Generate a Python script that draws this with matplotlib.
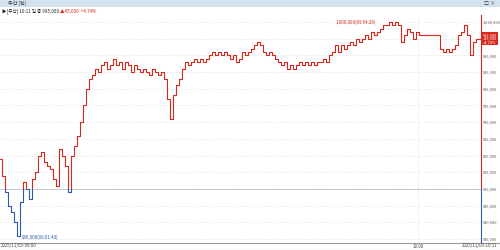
import matplotlib
matplotlib.use("Agg")
import matplotlib.pyplot as plt
from matplotlib.patches import Rectangle
import numpy as np

plt.rcParams['font.family'] = ['Noto Sans CJK KR', 'DejaVu Sans']

# tick prices (thousand won), sequential ticks
prices_k = [959, 954, 949, 945, 943, 940, 936, 946, 952, 950,
            947, 953, 955, 960, 961, 958, 957, 956, 953, 951,
            962, 960, 957, 949, 960, 963, 966, 970, 975, 980,
            983, 984, 986, 985, 987, 988, 986, 987, 989, 987,
            988, 986, 988, 987, 985, 987, 986, 985, 986, 985,
            984, 986, 985, 984, 985, 983, 977, 971, 978, 981,
            983, 986, 988, 987, 988, 989, 988, 989, 988, 989,
            990, 991, 990, 991, 990, 991, 990, 989, 990, 988,
            989, 991, 990, 991, 992, 993, 994, 993, 991, 990,
            991, 990, 989, 988, 987, 988, 986, 987, 986, 987,
            988, 987, 988, 987, 988, 987, 988, 988, 989, 988,
            990, 991, 993, 991, 993, 992, 993, 994, 993, 995,
            994, 995, 996, 995, 997, 996, 997, 998, 999, 999,
            1000, 999, 1000, 999, 994, 996, 998, 997, 995, 997,
            996, 996, 996, 996, 996, 996, 996, 992, 991, 992,
            991, 992, 993, 996, 997, 999, 996, 990, 994, 995, 995]
prices = [p * 1000 for p in prices_k]
ref_price = 950000
y_ticks = [1000000, 995000, 990000, 985000, 980000, 975000, 970000,
           965000, 960000, 955000, 950000, 945000, 940000, 935000]
title_text = "두산 (틱)"
info_text = "▶[두산] 10:11 일 종 995,000"
info_change = "▲45,000  +4.74%"
high_label = "1,000,000(09:54:26)"
low_label = "936,000(09:01:40)"
x_labels = ["2025/11/03-09:00", "10:00", "2025/11/03-10:11"]
tag_lines = ["995,000", "+45,000", "+4.74%"]

RED = '#d8281b'
BLUE = '#2c5ca8'

fig = plt.figure(figsize=(5, 2.5), dpi=100)
fig.patch.set_facecolor('white')

# top title bar
fig.patches.append(Rectangle((0, 1 - 7/250), 1, 7/250, transform=fig.transFigure,
                             facecolor='#d3e2ef', edgecolor='none'))
fig.text(8/500, 1 - 3.5/250, title_text, fontsize=3.6, color='#333333', va='center', ha='left')
fig.text(484/500, 1 - 3.5/250, "□ ×", fontsize=3.6, color='#333333', va='center', ha='left')
t = fig.text(2/500, 1 - 11/250, info_text, fontsize=3.3, color='#222222', va='center', ha='left')
fig.canvas.draw()
bb = t.get_window_extent()
fig.text(bb.x1 / 500 + 1/500, 1 - 11/250, info_change, fontsize=3.3, color=RED, va='center', ha='left')

ax = fig.add_axes([0, 8/250, 481/500, (242 - 15)/250])
x = np.arange(len(prices))
ax.set_xlim(0, len(prices) - 0.7)
ax.set_ylim(934100, 1002100)

for sp in ['top', 'left', 'right', 'bottom']:
    ax.spines[sp].set_visible(False)

# grid
for yv in y_ticks:
    ax.axhline(yv, color='#dddddd', lw=0.5, ls=(0, (1, 1.5)), zorder=0)
ten_idx = 139.3
ax.axvline(ten_idx, color='#dddddd', lw=0.5, ls=(0, (1, 1.5)), zorder=0)
ax.axhline(ref_price, color='#888888', lw=0.6, ls=(0, (1, 1)), zorder=1)

# price line split red/blue around reference
lr, = ax.plot(x, prices, color=RED, lw=0.8, drawstyle='steps-mid', zorder=3)
lb, = ax.plot(x, prices, color=BLUE, lw=0.8, drawstyle='steps-mid', zorder=3)
top_clip = Rectangle((-10, ref_price), 1000, 200000, transform=ax.transData)
bot_clip = Rectangle((-10, 800000), 1000, ref_price - 800000, transform=ax.transData)
lr.set_clip_path(top_clip)
lb.set_clip_path(bot_clip)

# right axis line red/blue
ax.plot([1, 1], [ref_price, 1002100], transform=ax.get_yaxis_transform(), color=RED,
        lw=0.8, clip_on=False, zorder=5)
ax.plot([1, 1], [934100, ref_price], transform=ax.get_yaxis_transform(), color=BLUE,
        lw=0.8, clip_on=False, zorder=5)

ax.yaxis.tick_right()
ax.set_yticks(y_ticks)
ax.set_yticklabels([f"{v:,}" for v in y_ticks], fontsize=2.8, color='#555555')
ax.tick_params(axis='y', length=0, pad=1.2)
ax.set_xticks([])

# high / low annotations
hi_i = int(np.argmax(prices))
lo_i = int(np.argmin(prices))
ax.annotate(high_label, xy=(hi_i - 3, max(prices)), xytext=(-4, 0), textcoords='offset points',
            fontsize=3.2, color=RED, ha='right', va='center')
ax.annotate(low_label, xy=(lo_i, min(prices)), xytext=(3, -1), textcoords='offset points',
            fontsize=3.2, color=BLUE, ha='left', va='center')

# current price tag
ax.text(1.004, prices[-1], "\n".join(tag_lines), transform=ax.get_yaxis_transform(),
        fontsize=2.8, color='white', ha='left', va='center', linespacing=0.95,
        bbox=dict(boxstyle='square,pad=0.15', facecolor=RED, edgecolor='none'), zorder=6,
        clip_on=False)

# bottom axis lines
fig.lines.append(plt.Line2D([0, 1], [1 - 242.5/250] * 2, transform=fig.transFigure,
                            color='#999999', lw=0.8))
fig.lines.append(plt.Line2D([0, 1], [1 - 249.5/250] * 2, transform=fig.transFigure,
                            color='#999999', lw=0.8))

# x labels
fig.text(1/500, 1 - 246/250, x_labels[0], fontsize=3.2, color='#444444', ha='left', va='center')
xd = ax.transData.transform((ten_idx, 0))[0]
fig.text(xd / 500, 1 - 246/250, x_labels[1], fontsize=3.2, color='#444444', ha='center', va='center')
fig.text(498/500, 1 - 246/250, x_labels[2], fontsize=3.2, color='#444444', ha='right', va='center')

fig.savefig("out.png", dpi=100, facecolor='white')
